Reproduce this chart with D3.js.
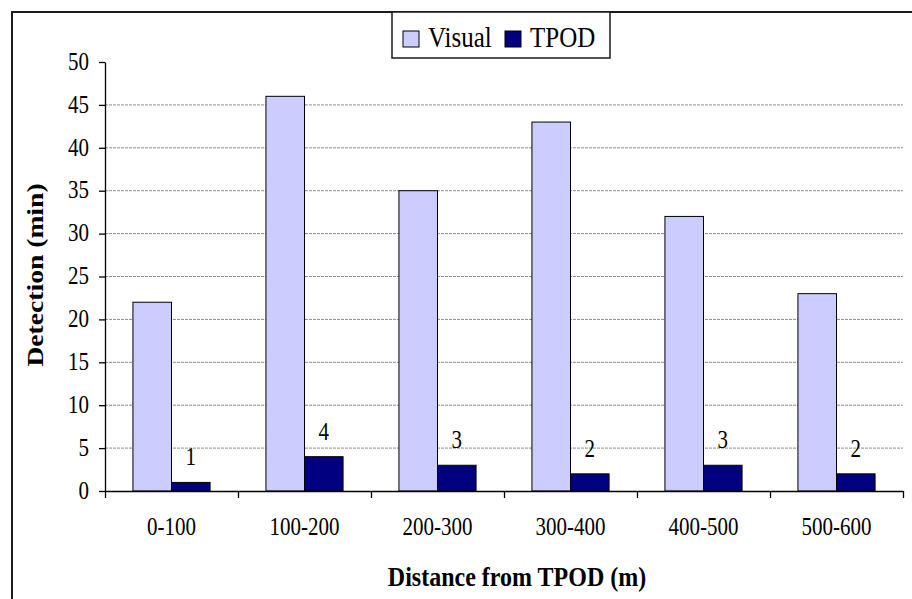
<!DOCTYPE html>
<html>
<head>
<meta charset="utf-8">
<script src="https://cdn.jsdelivr.net/npm/d3@7"></script>
<style>
  body { margin: 0; background: #fff; }
  svg text { font-family: "Liberation Serif", "Times New Roman", serif; fill: #000; }
  .grid line { stroke: #8c8c8c; stroke-dasharray: 3,1; stroke-width: 1; }
</style>
</head>
<body>
<script>
// chart data
var categories = ["0-100", "100-200", "200-300", "300-400", "400-500", "500-600"];
var visual = [22, 46, 35, 43, 32, 23];
var tpod = [1, 4, 3, 2, 3, 2];
var seriesNames = ["Visual", "TPOD"];
var seriesColors = ["#ccccff", "#000080"];
var yTicks = [0, 5, 10, 15, 20, 25, 30, 35, 40, 45, 50];

var width = 912,
    height = 599;

// the original picture is a bit taller than wide, stretch text the same way
var sy = 1.15;

// plot box (window.top is read-only, so no plain "top" here)
var plotLeft = 105, plotRight = 903, plotTop = 62, plotBottom = 491;

var svg = d3.select("body").append("svg")
    .attr("width", width)
    .attr("height", height);

// outer frame (only left and top edges are visible)
svg.append("path")
    .attr("d", "M12," + height + "V12H" + width)
    .attr("fill", "none")
    .attr("stroke", "#1a1a1a")
    .attr("stroke-width", 2);

var x = d3.scaleBand()
    .domain(categories)
    .range([plotLeft, plotRight]);

var xs = d3.scaleBand()
    .domain(seriesNames)
    .range([x.bandwidth() * 0.21, x.bandwidth() * 0.79]);

var y = d3.scaleLinear()
    .domain([0, 50])
    .range([plotBottom, plotTop]);

// grid lines
svg.append("g").attr("class", "grid")
    .selectAll("line").data(yTicks.filter(d => d > 0 && d < 50))
  .enter().append("line")
    .attr("x1", plotLeft)
    .attr("x2", plotRight)
    .attr("y1", d => y(d))
    .attr("y2", d => y(d));

// bars
var rows = categories.map((c, i) => ({cat: c, values: [visual[i], tpod[i]]}));

var groups = svg.append("g").attr("class", "bars")
    .selectAll("g").data(rows)
  .enter().append("g")
    .attr("transform", d => "translate(" + x(d.cat) + ",0)");

groups.selectAll("rect")
    .data(d => d.values.map((v, j) => ({name: seriesNames[j], value: v, j: j})))
  .enter().append("rect")
    .attr("x", d => xs(d.name))
    .attr("y", d => y(d.value))
    .attr("width", xs.bandwidth())
    .attr("height", d => y(0) - y(d.value))
    .attr("fill", d => seriesColors[d.j])
    .attr("stroke", "#000")
    .attr("stroke-width", 1);

// value labels on TPOD bars
groups.append("text")
    .attr("text-anchor", "middle")
    .style("font-size", "21px")
    .attr("transform", (d, i) => "translate(" + (xs("TPOD") + xs.bandwidth() / 2) + "," + (y(tpod[i]) - 17) + ") scale(1," + sy + ")")
    .text((d, i) => tpod[i]);

// y axis
var yAxis = svg.append("g")
    .attr("transform", "translate(" + plotLeft + ",0)")
    .call(d3.axisLeft(y).tickValues(yTicks).tickSize(6).tickSizeOuter(0).tickPadding(10));

yAxis.selectAll("text")
    .style("font-size", "21px")
    .style("font-family", null)
    .attr("font-family", null)
    .attr("transform", "scale(1," + sy + ")")
    .attr("dy", "0.3em");
yAxis.attr("font-family", null).attr("font-size", null);

// x axis: boundary ticks
var xb = d3.scaleLinear().domain([0, categories.length]).range([plotLeft, plotRight]);

var xAxis = svg.append("g")
    .attr("transform", "translate(0," + plotBottom + ")")
    .call(d3.axisBottom(xb).ticks(categories.length).tickFormat("").tickSize(7).tickSizeOuter(0));

// x category labels
svg.append("g")
    .selectAll("text").data(categories)
  .enter().append("text")
    .attr("text-anchor", "middle")
    .style("font-size", "21px")
    .attr("transform", d => "translate(" + (x(d) + x.bandwidth() / 2) + "," + (plotBottom + 44) + ") scale(1," + sy + ")")
    .text(d => d);

svg.selectAll(".domain, .tick line").attr("stroke", "#000").attr("stroke-width", 1.3);

// axis titles
svg.append("text")
    .attr("text-anchor", "middle")
    .style("font-size", "24px")
    .style("font-weight", "bold")
    .attr("transform", "translate(517,586) scale(1," + sy + ")")
    .text("Distance from TPOD (m)");

svg.append("text")
    .attr("text-anchor", "middle")
    .style("font-size", "24px")
    .style("font-weight", "bold")
    .attr("transform", "translate(43,275) rotate(-90) scale(" + sy + ",1)")
    .text("Detection (min)");

// legend
var legend = svg.append("g").attr("class", "legend");

legend.append("rect")
    .attr("x", 392)
    .attr("y", 12)
    .attr("width", 218)
    .attr("height", 46)
    .attr("fill", "#fff")
    .attr("stroke", "#1a1a1a")
    .attr("stroke-width", 1.5);

var legendX = [403, 505];

var item = legend.selectAll("g.item").data(seriesNames)
  .enter().append("g")
    .attr("class", "item")
    .attr("transform", (d, i) => "translate(" + legendX[i] + ",0)");

item.append("rect")
    .attr("x", 0)
    .attr("y", 31)
    .attr("width", 16)
    .attr("height", 16)
    .attr("fill", (d, i) => seriesColors[i])
    .attr("stroke", "#000")
    .attr("stroke-width", 1);

item.append("text")
    .style("font-size", "25px")
    .attr("transform", "translate(25,47) scale(1," + sy + ")")
    .text(d => d);
</script>
</body>
</html>
